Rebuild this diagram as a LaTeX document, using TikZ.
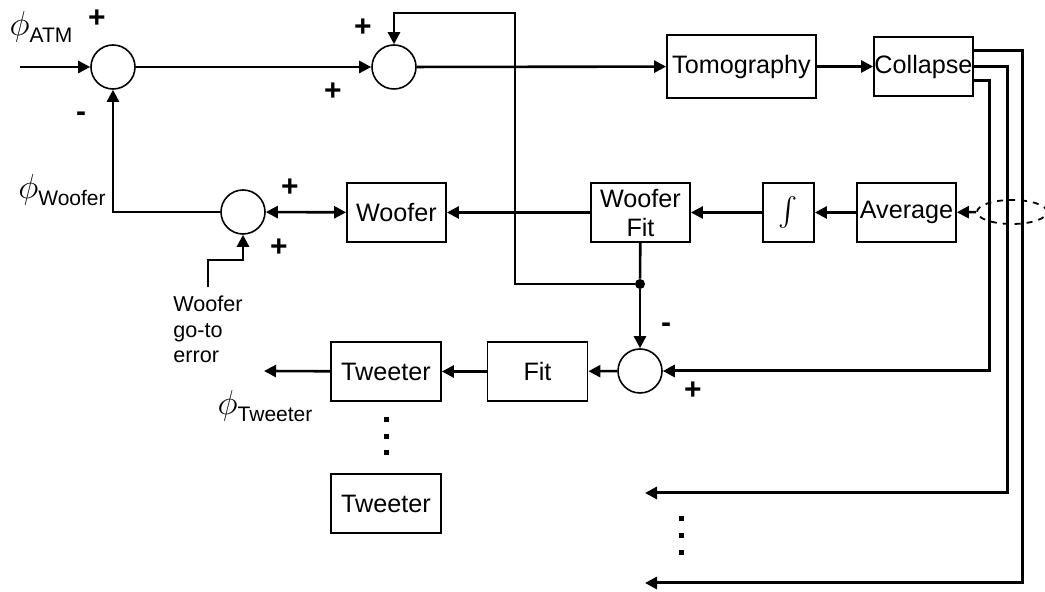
\documentclass[tikz,border=0pt]{standalone}
\usepackage{amsmath}
\usepackage{fontspec}
\setmainfont{Liberation Sans}
\usetikzlibrary{arrows.meta, shapes.geometric}

\newcommand{\phaselbl}[1]{{\fontsize{19}{19}\selectfont$\phi$}{\fontsize{10.5}{12}\selectfont\raisebox{-3.5pt}{#1}}}

\begin{document}
\begin{tikzpicture}[
    x=0.5pt, y=-0.5pt,
    every node/.style={font=\fontsize{12.6}{14.5}\selectfont},
    block/.style={draw, line width=0.9pt, minimum height=29.5pt, inner sep=0pt, align=center},
    sum/.style={circle, draw, line width=0.8pt, minimum size=22pt, inner sep=0pt},
    junction/.style={circle, fill, minimum size=5pt, inner sep=0pt},
    arrow/.style={-{Triangle[length=6pt, width=6pt]}, line width=1.3pt},
    twoway/.style={{Triangle[length=6pt, width=6pt]}-{Triangle[length=6pt, width=6pt]}, line width=1.3pt},
    sign/.style={font=\fontsize{15}{16}\selectfont\bfseries, inner sep=0pt},
    small/.style={font=\fontsize{10.8}{12.8}\selectfont, align=left},
    phase/.style={inner sep=0pt}
]
\useasboundingbox (0,0) rectangle (1045,592);

% Summing junctions
\node[sum] (s1) at (113,67) {};
\node[sum] (s2) at (394,67) {};
\node[sum] (s3) at (243,212) {};
\node[sum] (s4) at (640,371) {};

% Blocks
\node[block, minimum width=74.5pt, minimum height=31.5pt] (tomo) at (741.5,66.5) {Tomography};
\node[block, minimum width=49.5pt] (coll) at (923.5,66.5) {Collapse};
\node[block, minimum width=49.5pt] (avg) at (906.5,212.5) {Average};
\node[block, minimum width=25.5pt] (integ) at (788.5,212.5) {\fontsize{14}{14}\selectfont$\int$};
\node[block, minimum width=49.5pt] (wfit) at (640.5,212.5) {Woofer\\Fit};
\node[block, minimum width=49.5pt] (woof) at (396.5,212.5) {Woofer};
\node[block, minimum width=50pt] (fit) at (537.5,371.5) {Fit};
\node[block, minimum width=55pt] (tw1) at (386,371.5) {Tweeter};
\node[block, minimum width=55pt] (tw2) at (386,503.5) {Tweeter};

\node[junction] (jn) at (640,284) {};
\node[draw, dashed, ellipse, line width=0.9pt, minimum width=35pt, minimum height=12pt, inner sep=0pt] (ell) at (1012,212) {};

% Free ends
\coordinate (in) at (20,67);
\coordinate (twout) at (264,371);
\coordinate (outA) at (645,493);
\coordinate (outB) at (645,583);
\coordinate (fbtop) at (515,13);

% Labels
\node[phase] (phatm) at (41,27) {\phaselbl{ATM}};
\node[phase] (phwoof) at (62,190) {\phaselbl{Woofer}};
\node[phase] (phtw) at (265,406) {\phaselbl{Tweeter}};
\node[small, anchor=north, inner sep=0pt, outer sep=4.5pt] (gotolbl) at (208,287) {Woofer\\go-to\\error};

\node[sign] (pa) at (97,19) {+};
\node[sign] (ma) at (81,117) {-};
\node[sign] (pb) at (333,92) {+};
\node[sign] (pc) at (363,28) {+};
\node[sign] (pd) at (290,188) {+};
\node[sign] (pe) at (279,248) {+};
\node[sign] (mb) at (666,328) {-};
\node[sign] (pf) at (693,391) {+};

% Forward path
\draw[arrow] (in) -- (s1);
\draw[arrow] (s1) -- (s2);
\draw[arrow] (s2) -- (tomo);
\draw[arrow] (tomo) -- (coll);

% Collapse outputs
\draw[arrow, line width=1.5pt] ([yshift=8pt]coll.east) -- ++(49,0) |- (outB);
\draw[arrow, line width=1.5pt] (coll.east) -- ++(34,0) |- (outA);
\draw[arrow, line width=1.5pt] ([yshift=-7pt]coll.east) -- ++(16,0) |- (s4);

% Woofer loop
\draw[arrow] (ell) -- (avg);
\draw[arrow] (avg) -- (integ);
\draw[arrow] (integ) -- (wfit);
\draw[arrow] (wfit) -- (woof);
\draw[twoway] (woof) -- (s3);
\draw[arrow] (s3) -| (s1);
\draw[arrow] (gotolbl.north) -- ++(0,-27) -| (s3);
\draw[line width=1.3pt] (wfit) -- (jn);
\draw[arrow] (jn) -| (fbtop) -| (s2);

% Tweeter path
\draw[arrow] (jn) -- (s4);
\draw[arrow] (s4) -- (fit);
\draw[arrow] (fit) -- (tw1);
\draw[arrow] (tw1) -- (twout);

% Dots
\foreach \y in {420,437,453} \fill (383.5,\y-2.5) rectangle ++(5,5);
\foreach \y in {519,536,553} \fill (678.5,\y-2.5) rectangle ++(5,5);

\end{tikzpicture}
\end{document}
